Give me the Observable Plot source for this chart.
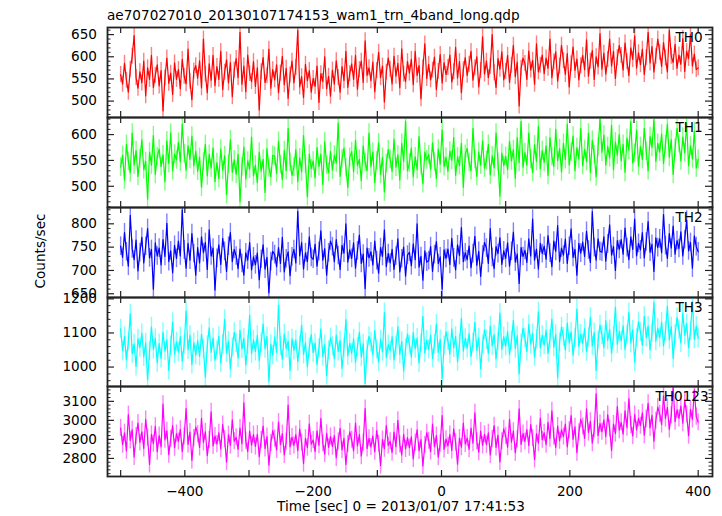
<!DOCTYPE html>
<html>
<head>
<meta charset="utf-8">
<script src="https://cdn.jsdelivr.net/npm/d3@7"></script>
<script src="https://cdn.jsdelivr.net/npm/@observablehq/plot@0.6"></script>
<style>
  html, body { margin: 0; padding: 0; background: #fff; }
  #chart { position: relative; width: 722px; height: 516px; background: #fff; font-family: "DejaVu Sans", sans-serif; color: #000; overflow: hidden; }
  #chart svg { position: absolute; left: 0; overflow: visible; background: transparent; }
  .lbl { position: absolute; font-size: 13.6px; line-height: 1; white-space: nowrap; }
</style>
</head>
<body>
<div id="chart">
  <div class="lbl" style="left:107px; top:9px;">ae707027010_20130107174153_wam1_trn_4band_long.qdp</div>
  <div class="lbl" style="left:277px; top:500px;">Time [sec] 0 = 2013/01/07 17:41:53</div>
  <div class="lbl" style="left:41px; top:251px; transform: translate(-50%,-50%) rotate(-90deg);">Counts/sec</div>
</div>
<script>
// ---- time bins (3 s) from -500 s to +400 s ----
const tStart = -500, tStep = 3, nBins = 301;

// ---- series values (counts/sec) ----
const th0 = [
560,538,585,547,520,572,601,648,553,529, 566,541,590,512,575,549,603,531,558,582,
534,569,478,552,597,540,563,515,586,549, 571,528,594,556,539,617,545,503,568,580,
552,591,530,640,561,519,584,547,603,535, 578,549,612,526,565,593,541,587,510,570,
596,553,655,538,579,521,604,562,544,589, 533,575,480,566,598,542,557,617,529,571,
548,582,519,563,601,537,574,506,559,590, 541,576,660,532,555,508,583,546,569,520,
551,533,579,497,562,544,600,528,556,511, 570,538,591,553,520,578,546,612,531,562,
584,549,603,527,571,590,542,636,558,575, 546,588,521,569,610,553,579,498,565,597,
572,539,601,556,585,530,618,561,544,589, 563,594,537,612,558,580,505,575,629,551,
583,548,570,599,526,567,605,541,587,560, 576,604,543,566,621,552,589,519,571,598,
558,583,612,547,575,600,532,569,645,561, 590,553,578,650,564,531,596,572,611,548,
567,603,542,581,626,555,588,489,574,597, 585,549,613,570,592,538,629,566,581,604,
562,597,574,640,553,588,611,545,579,626, 591,560,607,532,584,622,569,595,548,580,
603,571,638,556,590,614,549,600,577,652, 572,608,561,594,640,579,612,551,598,625,
603,570,631,589,558,620,594,647,575,609, 582,617,560,598,655,586,623,566,601,640,
610,578,632,597,566,660,601,587,628,574, 604,583,641,567,612,596,650,579,606,571,
575];
const th1 = [
537,560,512,581,548,526,603,541,569,519, 553,590,532,548,475,566,541,598,523,557,
572,538,561,509,588,544,603,530,562,551, 585,547,620,563,531,578,552,597,540,568,
529,556,498,547,581,520,562,535,574,509, 546,515,572,531,559,484,543,590,527,551,
523,562,470,538,576,514,549,533,595,520, 541,507,566,529,552,488,573,536,518,560,
558,525,587,542,513,569,530,612,546,521, 537,571,509,555,528,598,543,480,562,534,
549,516,575,538,562,503,586,541,527,567, 531,560,545,622,519,553,574,536,498,556,
567,528,589,540,552,511,578,546,530,603, 538,566,507,549,584,523,556,489,544,571,
552,529,591,537,561,512,583,548,626,530, 545,574,518,557,532,596,540,505,566,551,
561,533,584,547,515,572,543,609,538,556, 529,568,550,594,521,557,540,583,498,562,
573,546,530,612,552,519,566,541,588,535, 550,581,522,559,536,603,547,481,564,540,
558,532,587,549,571,515,594,546,625,537, 565,541,603,552,527,580,548,616,534,569,
546,578,521,594,557,538,610,549,573,528, 583,552,620,541,566,597,530,575,553,612,
540,571,548,603,527,589,561,518,576,630, 566,599,541,577,555,618,532,586,560,600,
549,581,527,593,570,625,545,564,608,539, 577,552,612,568,530,596,575,629,548,583,
566,601,544,581,620,556,590,523,574,612, 583,549,595,565,622,540,578,553,606,535,
552];
const th2 = [
752,728,781,740,709,818,746,723,765,699, 738,771,716,752,790,727,745,660,759,731,
748,712,766,730,801,719,742,695,754,726, 763,731,830,744,705,758,722,779,736,690,
749,716,772,738,760,702,787,731,748,658, 726,755,713,769,741,698,752,781,719,745,
731,704,746,715,690,738,722,760,701,729, 712,737,680,724,755,703,728,652,719,741,
734,708,749,715,771,697,725,740,689,729, 745,716,827,731,760,703,738,719,772,728,
724,756,709,741,785,722,747,690,738,763, 751,719,766,732,702,754,737,800,718,744,
726,759,705,742,776,715,735,661,748,727, 740,712,763,721,694,749,730,787,708,736,
716,745,702,731,768,697,725,750,688,733, 739,710,757,723,800,707,730,679,742,718,
721,751,698,734,762,715,729,660,744,726, 746,713,769,727,701,755,732,792,719,738,
723,752,706,736,773,711,741,687,733,760, 748,715,790,728,704,751,736,770,713,742,
726,759,709,741,782,718,735,672,749,730, 743,717,768,731,810,722,746,703,758,736,
752,724,775,737,708,763,741,796,719,748, 733,767,715,752,789,728,745,690,758,737,
761,730,784,744,717,826,749,722,768,741, 739,772,720,757,798,733,751,700,764,745,
766,735,791,749,723,772,745,810,731,758, 744,781,727,761,805,739,756,698,770,749,
768,738,820,753,726,779,748,795,735,764, 747,783,731,766,808,742,760,705,774,751,
740];
const th3 = [
1112,1048,1090,1021,1075,1156,1039,1068,1002,1083, 1057,1099,1030,1071,962,1046,1118,1052,1084,1013,
1069,1025,1102,1047,1080,990,1063,1131,1038,1074, 1044,1089,1017,1066,1165,1050,1093,1008,1072,1035,
1078,1031,1096,1052,970,1064,1115,1043,1085,1020, 1049,1090,1012,1067,1140,1041,1076,995,1058,1102,
1071,1027,1108,1053,1084,1006,1065,1152,1039,1080, 1046,1093,1019,1072,1126,1054,1089,958,1067,1035,
1088,1044,1181,1061,1023,1097,1055,1076,990,1083, 1049,1079,1016,1064,1123,1037,1072,1001,1058,1095,
1042,1070,1008,1055,1112,1031,1066,975,1049,1086, 1061,1025,1094,1046,1078,996,1057,1139,1033,1070,
1040,1083,1014,1059,1102,1029,1068,952,1051,1090, 1073,1036,1107,1052,1015,1081,1045,1160,1028,1066,
1048,1089,1021,1063,1118,1037,1075,988,1056,1097, 1066,1030,1101,1054,1085,1012,1070,1149,1041,1079,
1052,1094,1025,1068,1126,1043,1081,966,1063,1103, 1077,1038,1112,1056,1090,1016,1069,1143,1047,1084,
1055,1098,1031,1072,1131,1049,1086,995,1066,1109, 1080,1041,1120,1063,1095,1024,1075,1158,1052,1089,
1061,1104,1037,1078,1137,1054,1092,980,1069,1114, 1085,1046,1125,1067,1099,1029,1081,1162,1056,1093,
1064,1108,1040,1082,1141,1058,1096,968,1073,1118, 1088,1050,1129,1071,1103,1035,1085,1170,1060,1097,
1069,1113,1045,1087,1146,1062,1101,990,1078,1123, 1094,1057,1136,1078,1110,1041,1092,1175,1067,1104,
1077,1121,1052,1095,1160,1070,1109,1015,1086,1133, 1103,1064,1149,1087,1120,1050,1101,1190,1076,1114,
1086,1132,1061,1105,1178,1080,1119,1025,1096,1145, 1110,1071,1158,1093,1127,1056,1106,1192,1082,1120,
1085];
const th0123 = [
2960,2872,2935,2840,3030,2895,2951,2808,2917,2986, 2884,2940,2852,3005,2910,2768,2926,2878,2969,2835,
2920,2861,3085,2898,2945,2820,2903,2972,2856,2931, 2889,2953,2836,2915,3062,2874,2938,2790,2907,2965,
2927,2858,3010,2884,2940,2815,2896,3045,2866,2918, 2875,2934,2850,2978,2902,2781,2925,2868,3003,2890,
2911,2848,2960,2877,3092,2893,2836,2944,2870,2925, 2863,2927,2809,2898,2970,2852,2915,2765,2881,2946,
2904,2845,2991,2872,2930,2818,2889,3080,2860,2912, 2868,2925,2841,2954,2883,2773,2906,2857,2982,2875,
2897,2836,2945,2869,3010,2880,2823,2932,2858,2915, 2862,2920,2803,2889,2958,2845,2905,2768,2876,2940,
2899,2840,2985,2866,2925,2812,2883,3062,2852,2906, 2860,2918,2835,2946,2877,2762,2899,2851,2973,2868,
2890,2831,2938,2862,3000,2874,2818,2926,2850,2909, 2856,2913,2797,2883,2950,2840,2899,2760,2870,2935,
2893,2836,2980,2861,2920,2806,2878,3025,2847,2901, 2866,2925,2842,2955,2884,2770,2907,2859,2985,2876,
2907,2848,2960,2880,3040,2890,2833,2944,2868,2927, 2872,2935,2818,2903,2972,2858,2921,2782,2890,2955,
2918,2859,3005,2885,2943,2830,2901,3060,2874,2931, 2889,2952,2868,2978,2907,2795,2930,2880,3012,2898,
2935,2872,2990,2904,3050,2915,2858,2970,2893,2950, 2915,2980,2861,2948,3025,2900,2966,2830,2937,3005,
2968,2905,3060,2936,2995,2880,2952,3140,2920,2983, 2940,3003,2915,3030,2957,2842,2981,2930,3072,2948,
2990,2928,3050,2962,3115,2975,2918,3031,2950,3010, 2972,3040,2922,3008,3090,2960,3027,2890,2998,3070,
3035,2978,3130,3010,3068,2952,3026,3175,2993,3055, 3010,3075,2985,3105,3032,2920,3058,3005,3160,3020,
2990];

// ---- per-series error-bar half size (counts/sec) ----
const errHalf = [18, 18, 20, 28, 45];

// ---- axes / labels ----
const seriesNames = ["TH0", "TH1", "TH2", "TH3", "TH0123"];
const xDomain = [-520.5, 422.3];
const xTickValues = [-500, -400, -300, -200, -100, 0, 100, 200, 300, 400];
const xTickLabels = [-400, -200, 0, 200, 400];
const yDomains = [[463, 666], [459, 633], [642, 835], [943, 1204], [2705, 3178]];
const yTickLabels = [[500, 550, 600, 650], [500, 550, 600], [650, 700, 750, 800], [1000, 1100, 1200], [2800, 2900, 3000, 3100]];
const yMinorSteps = [10, 10, 10, 20, 20];

// ---- styles / layout ----
const colors = ["#ff0000", "#00ff00", "#0000ff", "#00ffff", "#ff00ff"];
const panelTops = [27, 117, 207, 297, 386];
const panelHeights = [90, 90, 90, 89, 90];
const labelDx = [-37, -37, -37, -37, -57];
const allSeries = [th0, th1, th2, th3, th0123];

const time = d3.range(nBins).map(i => tStart + tStep * i);
const W = 722, ML = 107, MR = 10;
const innerW = W - ML - MR;
const ink = "#222";
const chart = document.getElementById("chart");
const fmtInt = d3.format("d");
const fmtX = d => (d < 0 ? "\u2212" : "") + Math.abs(d);

allSeries.forEach((vals, k) => {
  const last = k === allSeries.length - 1;
  const h = panelHeights[k];
  const mb = last ? 40 : 0;
  const e = errHalf[k];
  const data = vals.map((v, i) => ({t: time[i], v, lo: v - e, hi: v + e}));
  const dom = yDomains[k];
  const step = yMinorSteps[k];
  const minor = d3.range(Math.ceil(dom[0] / step) * step, dom[1], step)
    .filter(v => !yTickLabels[k].includes(v));
  const marks = [
    Plot.ruleX(data, {x: "t", y1: "lo", y2: "hi", stroke: colors[k], strokeOpacity: 0.5, strokeWidth: 1.4, clip: true}),
    Plot.lineY(data, {x: "t", y: "v", stroke: colors[k], strokeWidth: 1.2, clip: true}),
    Plot.frame({stroke: ink, strokeWidth: 1.8}),
    Plot.ruleX(xTickValues, {x: d => d, stroke: ink, strokeWidth: 1.2, insetBottom: h - 6}),
    Plot.ruleX(xTickValues, {x: d => d, stroke: ink, strokeWidth: 1.2, insetTop: h - 6}),
    Plot.ruleY(yTickLabels[k], {y: d => d, stroke: ink, strokeWidth: 1.2, insetRight: innerW - 7}),
    Plot.ruleY(yTickLabels[k], {y: d => d, stroke: ink, strokeWidth: 1.2, insetLeft: innerW - 7}),
    Plot.ruleY(minor, {y: d => d, stroke: ink, strokeWidth: 1, insetRight: innerW - 3.5}),
    Plot.ruleY(minor, {y: d => d, stroke: ink, strokeWidth: 1, insetLeft: innerW - 3.5}),
    Plot.axisY(yTickLabels[k], {anchor: "left", tickSize: 0, tickPadding: 10.5, label: null, fontSize: 13.6, tickFormat: fmtInt}),
    Plot.text([seriesNames[k]], {frameAnchor: "top-right", textAnchor: "start", lineAnchor: "top", dx: labelDx[k], dy: 5, fontSize: 13.6, fill: "#000"})
  ];
  if (last) {
    marks.push(Plot.axisX(xTickLabels, {anchor: "bottom", tickSize: 0, tickPadding: 10, label: null, fontSize: 13.6, tickFormat: fmtX}));
  }
  const svg = Plot.plot({
    width: W,
    height: h + mb,
    marginLeft: ML,
    marginRight: MR,
    marginTop: 0,
    marginBottom: mb,
    x: {domain: xDomain, axis: last ? undefined : null},
    y: {domain: dom},
    style: {fontFamily: "DejaVu Sans, sans-serif", fontSize: "13.6px", color: "#000", background: "transparent", overflow: "visible"},
    marks
  });
  svg.style.position = "absolute";
  svg.style.top = panelTops[k] + "px";
  svg.style.left = "0px";
  chart.appendChild(svg);
});
</script>
</body>
</html>
